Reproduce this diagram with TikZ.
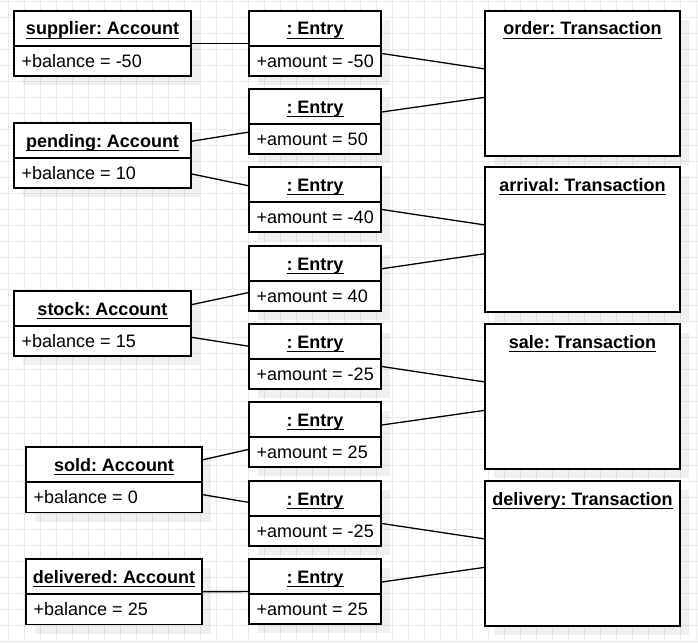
\documentclass[tikz,border=0pt]{standalone}
\usepackage{fontspec}
\setmainfont{Liberation Sans}
\usepackage{tikz}
\usetikzlibrary{shadows}
\frenchspacing

\definecolor{gridgray}{RGB}{234,234,234}

% underlined object name
\newcommand{\ulname}[1]{\setbox0=\hbox{#1}\rlap{\rule[-4.2pt]{\wd0}{1.4pt}}\box0}
% box with name compartment and one attribute
\newcommand{\umlobject}[6]{%
  \node[#1] (#2) at (#3,#4) {};
  \node[titletext] (#2-t) at ([yshift=-24pt]#2.north) {\ulname{#5}};
  \draw[divider] ([yshift=-35pt]#2.north west) -- ([yshift=-35pt]#2.north east);
  \node[attrtext] (#2-a) at ([xshift=7.5pt,yshift=-56pt]#2.north west) {#6};
}

\begin{document}
\begin{tikzpicture}[x=1pt, y=-1pt]
  \tikzset{
    gridline/.style={draw=gridgray, line width=0.9pt},
    objbox/.style={draw, line width=1.6pt, fill=white, outer sep=0pt, inner sep=0pt, anchor=north west,
      drop shadow={shadow xshift=9pt, shadow yshift=-9pt, fill=black, opacity=0.06}},
    account/.style={objbox, minimum width=177pt, minimum height=65pt},
    account2/.style={objbox, minimum width=176pt, minimum height=65.5pt},
    entry/.style={objbox, minimum width=132pt, minimum height=65pt},
    transaction/.style={objbox, minimum width=195pt, minimum height=145pt},
    titletext/.style={font=\fontsize{18pt}{21pt}\selectfont\bfseries, anchor=base, inner sep=0pt},
    attrtext/.style={font=\fontsize{18pt}{21pt}\selectfont, anchor=base west, inner sep=0pt},
    divider/.style={line width=1.6pt},
    link/.style={line width=1.3pt}
  }

  \useasboundingbox (0,0) rectangle (698,642);
  \fill[white] (0,0) rectangle (698,642);
  \foreach \gx in {8,24,...,696} \draw[gridline] (\gx,0) -- (\gx,642);
  \foreach \gy in {1,17,...,641} \draw[gridline] (0,\gy) -- (698,\gy);

  \umlobject{account}{supplier}{14}{11}{supplier: Account}{+balance = -50}
  \umlobject{account}{pending}{14}{123}{pending: Account}{+balance = 10}
  \umlobject{account}{stock}{14}{291}{stock: Account}{+balance = 15}
  \umlobject{account2}{sold}{26}{447}{sold: Account}{+balance = 0}
  \umlobject{account2}{delivered}{26}{559}{delivered: Account}{+balance = 25}

  \umlobject{entry}{e1}{249}{11}{: Entry}{+amount = -50}
  \umlobject{entry}{e2}{249}{89}{: Entry}{+amount = 50}
  \umlobject{entry}{e3}{249}{167}{: Entry}{+amount = -40}
  \umlobject{entry}{e4}{249}{246}{: Entry}{+amount = 40}
  \umlobject{entry}{e5}{249}{324}{: Entry}{+amount = -25}
  \umlobject{entry}{e6}{249}{402}{: Entry}{+amount = 25}
  \umlobject{entry}{e7}{249}{481}{: Entry}{+amount = -25}
  \umlobject{entry}{e8}{249}{559}{: Entry}{+amount = 25}

  \node[transaction] (order) at (485,11) {};
  \node[titletext] (order-t) at ([yshift=-24pt]order.north) {\ulname{order: Transaction}};
  \node[transaction] (arrival) at (485,167) {};
  \node[titletext] (arrival-t) at ([yshift=-24pt]arrival.north) {\ulname{arrival: Transaction}};
  \node[transaction] (sale) at (485,324) {};
  \node[titletext] (sale-t) at ([yshift=-24pt]sale.north) {\ulname{sale: Transaction}};
  \node[transaction] (delivery) at (485,481) {};
  \node[titletext] (delivery-t) at ([yshift=-24pt]delivery.north) {\ulname{delivery: Transaction}};

  \draw[link] (supplier) -- (e1);
  \draw[link] (pending) -- (e2);
  \draw[link] (pending) -- (e3);
  \draw[link] (stock) -- (e4);
  \draw[link] (stock) -- (e5);
  \draw[link] (sold) -- (e6);
  \draw[link] (sold) -- (e7);
  \draw[link] (delivered) -- (e8);
  \draw[link] (e1) -- (order);
  \draw[link] (e2) -- (order);
  \draw[link] (e3) -- (arrival);
  \draw[link] (e4) -- (arrival);
  \draw[link] (e5) -- (sale);
  \draw[link] (e6) -- (sale);
  \draw[link] (e7) -- (delivery);
  \draw[link] (e8) -- (delivery);
\end{tikzpicture}
\end{document}
